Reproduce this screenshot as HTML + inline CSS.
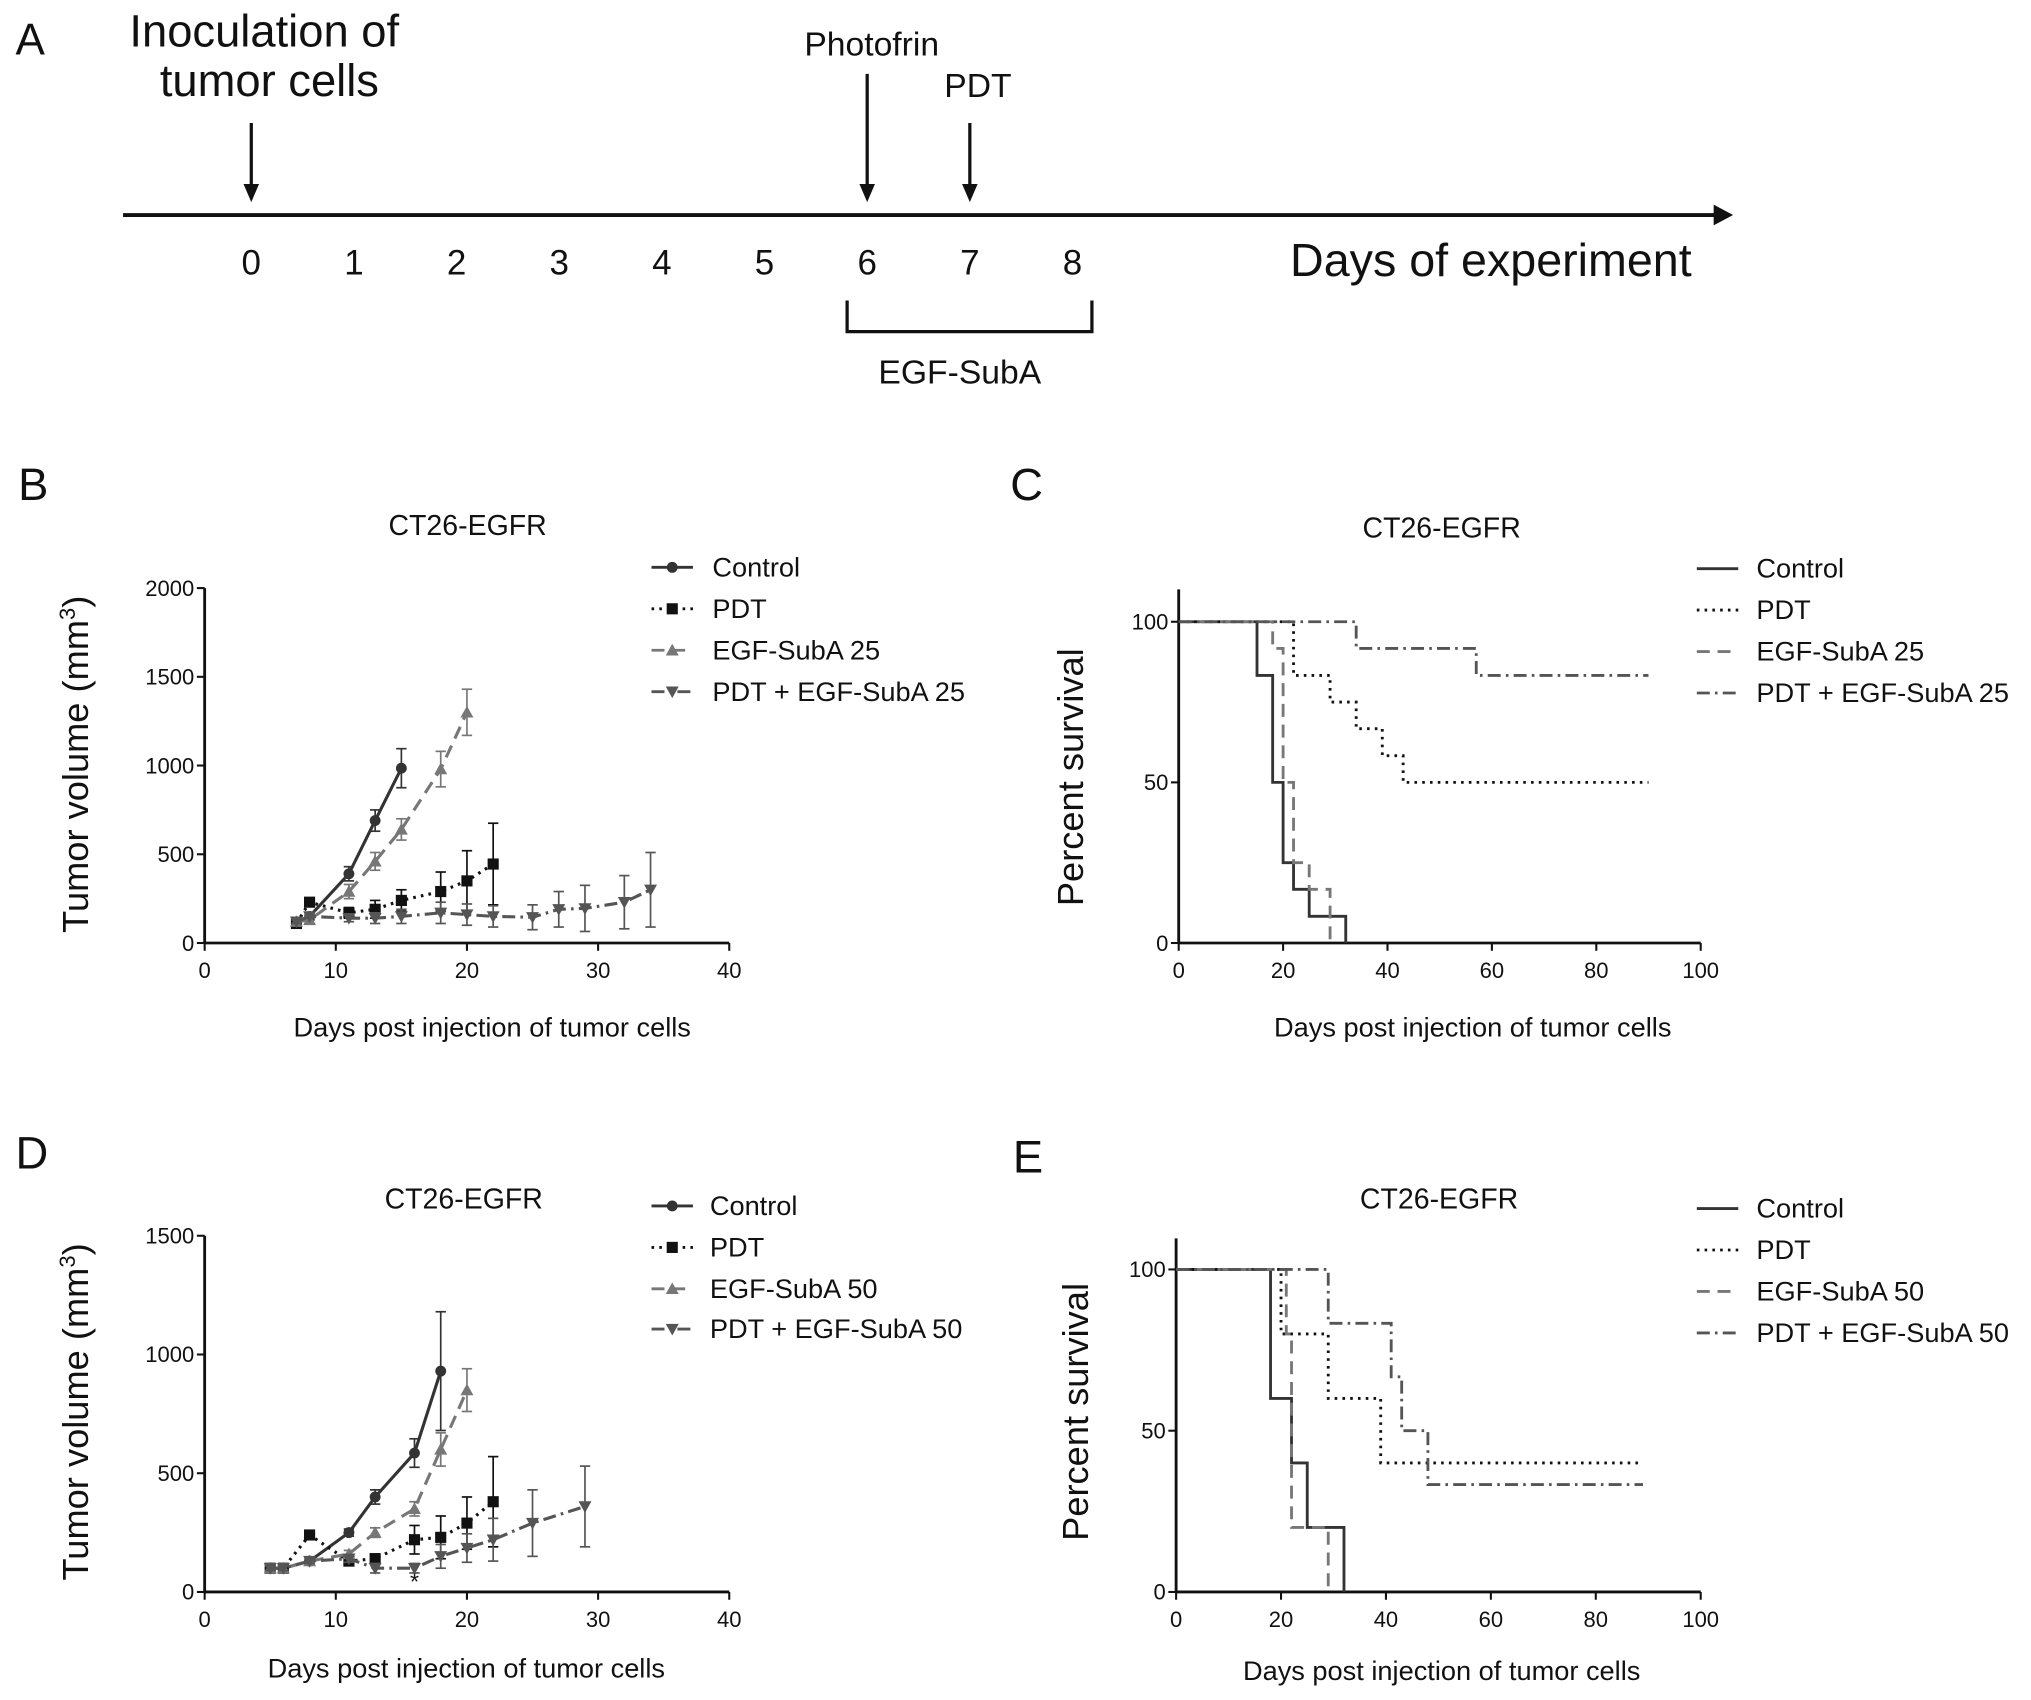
<!DOCTYPE html>
<html><head><meta charset="utf-8">
<style>
html,body{margin:0;padding:0;background:#fff;}
svg{display:block;}
text{font-family:"Liberation Sans Narrow","Liberation Sans",sans-serif;fill:#111;}
</style></head>
<body>
<svg id="fig" width="2031" height="1700" viewBox="0 0 1568 1312.4" preserveAspectRatio="none" xmlns="http://www.w3.org/2000/svg">
<rect width="1568" height="1312.4" fill="#fff"/>
<g id="panelA">
  <text x="12" y="42" font-size="34">A</text>
  <text x="204" y="36" font-size="35" text-anchor="middle">Inoculation of</text>
  <text x="208" y="74" font-size="35" text-anchor="middle">tumor cells</text>
  <text x="673" y="43" font-size="26" text-anchor="middle">Photofrin</text>
  <text x="755" y="75" font-size="26" text-anchor="middle">PDT</text>
  <line x1="95" y1="166" x2="1325" y2="166" stroke="#111" stroke-width="3"/>
  <polygon points="1323,158 1338,166 1323,174" fill="#111"/>
  <text x="1151" y="213" font-size="36" text-anchor="middle">Days of experiment</text>
  <path d="M654,232 V256 H843 V232" fill="none" stroke="#111" stroke-width="2.5"/>
  <text x="741" y="296" font-size="26" text-anchor="middle">EGF-SubA</text>
</g>
<g id="plots"></g>
</svg>
<script>
// ---------- Panel A data ----------
const timelineDays = [0,1,2,3,4,5,6,7,8];
const eventDays = [0,6,7];
const eventTops = [95,57,95];

// ---------- Panel B data ----------
const bCtrlX=[7,8,11,13,15], bCtrlY=[120,150,390,690,985], bCtrlE=[20,20,40,60,110];
const bPdtX=[7,8,11,13,15,18,20,22], bPdtY=[110,230,170,190,240,290,350,445], bPdtE=[0,0,30,50,60,110,170,230];
const bEgfX=[7,8,11,13,15,18,20], bEgfY=[120,130,290,460,640,980,1300], bEgfE=[20,20,40,50,60,100,130];
const bComboX=[7,8,11,13,15,18,20,22,25,27,29,32,34], bComboY=[120,150,140,140,150,170,160,150,145,190,195,230,300], bComboE=[10,10,20,30,40,60,60,60,70,100,130,150,210];
const bYTicks=[0,500,1000,1500,2000];
const bXTicks=[0,10,20,30,40];

// ---------- Panel D data ----------
const dCtrlX=[5,6,8,11,13,16,18], dCtrlY=[100,100,130,250,400,585,930], dCtrlE=[10,10,10,15,30,60,250];
const dPdtX=[5,6,8,11,13,16,18,20,22], dPdtY=[100,100,240,130,140,220,230,290,380], dPdtE=[10,10,10,15,20,60,90,110,190];
const dEgfX=[5,6,8,11,13,16,18,20], dEgfY=[100,100,130,160,250,350,600,850], dEgfE=[10,10,10,15,20,30,70,90];
const dComboX=[5,6,8,11,13,16,18,20,22,25,29], dComboY=[100,100,130,140,100,100,150,185,220,290,360], dComboE=[10,10,10,15,20,20,50,60,90,140,170];
const dYTicks=[0,500,1000,1500];
const dXTicks=[0,10,20,30,40];

// ---------- Panel C data (Kaplan-Meier) ----------
const cCtrlT=[0,15,18,20,22,25,32], cCtrlS=[100,83.3,50,25,16.7,8.3,0];
const cPdtT=[0,22,29,34,39,43,90], cPdtS=[100,83.3,75,66.7,58.3,50,50];
const cEgfT=[0,18,20,22,25,29], cEgfS=[100,91.7,50,25,16.7,0];
const cComboT=[0,34,57,90], cComboS=[100,91.7,83.3,83.3];
// ---------- Panel E data ----------
const eCtrlT=[0,18,22,25,32], eCtrlS=[100,60,40,20,0];
const ePdtT=[0,20,29,39,89], ePdtS=[100,80,60,40,40];
const eEgfT=[0,21,22,29], eEgfS=[100,80,20,0];
const eComboT=[0,29,41,43,48,89], eComboS=[100,83.3,66.7,50,33.3,33.3];
const survYTicks=[0,50,100];
const survXTicks=[0,20,40,60,80,100];

const NS='http://www.w3.org/2000/svg';
const root=document.getElementById('plots');
const panelA=document.getElementById('panelA');
function mk(tag,attrs,parent){const e=document.createElementNS(NS,tag);for(const k in attrs)e.setAttribute(k,attrs[k]);(parent||root).appendChild(e);return e;}

// Panel A ticks and arrows
const tA=d=>194+d*79.25;
timelineDays.forEach(d=>{
  const t=mk('text',{x:tA(d),y:212,'font-size':27,'text-anchor':'middle'},panelA);
  t.textContent=d;
  
  
});
eventDays.forEach((d,i)=>{
  const g=mk('g',{},panelA);
  
  
  mk('line',{x1:tA(d),y1:eventTops[i],x2:tA(d),y2:145,stroke:'#111','stroke-width':2.5},g);
  mk('polygon',{points:`${tA(d)-6},142 ${tA(d)+6},142 ${tA(d)},156`,fill:'#111'},g);
});

function marker(g,type,x,y,col){
  if(type==='circle')mk('circle',{cx:x,cy:y,r:4.2,fill:col},g);
  else if(type==='square')mk('rect',{x:x-4.3,y:y-4.3,width:8.6,height:8.6,fill:col},g);
  else if(type==='up')mk('polygon',{points:`${x-5},${y+4} ${x+5},${y+4} ${x},${y-5}`,fill:col},g);
  else mk('polygon',{points:`${x-5},${y-4} ${x+5},${y-4} ${x},${y+5}`,fill:col},g);
}

function axesFrame(o){
  const g=mk('g',{});
  
  
  mk('line',{x1:o.x0,y1:o.yb,x2:o.x1,y2:o.yb,stroke:'#111','stroke-width':2.2},g);
  mk('line',{x1:o.x0,y1:o.yb,x2:o.x0,y2:o.ytop,stroke:'#111','stroke-width':2.2},g);
  o.yTicks.forEach(v=>{const y=o.sy(v);mk('line',{x1:o.x0-6,y1:y,x2:o.x0,y2:y,stroke:'#111','stroke-width':1.6},g);
    const t=mk('text',{x:o.x0-8,y:y+6,'font-size':17,'text-anchor':'end'},g);t.textContent=v;
    
    });
  o.xTicks.forEach(v=>{const x=o.sx(v);mk('line',{x1:x,y1:o.yb,x2:x,y2:o.yb+6,stroke:'#111','stroke-width':1.6},g);
    const t=mk('text',{x:x,y:o.yb+27,'font-size':17,'text-anchor':'middle'},g);t.textContent=v;
    
    });
  const ti=mk('text',{x:o.tx,y:o.ty,'font-size':22,'text-anchor':'middle'},g);ti.textContent='CT26-EGFR';
  
  
  const xl=mk('text',{x:o.xlx,y:o.xly,'font-size':21,'text-anchor':'middle'},g);xl.textContent='Days post injection of tumor cells';
  
  
  const yl=mk('text',{x:0,y:0,'font-size':28,'text-anchor':'middle',transform:`translate(${o.ylx},${o.yly}) rotate(-90)`},g);
  
  
  if(o.mm3){yl.innerHTML='Tumor volume (mm<tspan dy="-10" font-size="17">3</tspan><tspan dy="10">)</tspan>';}
  else yl.textContent='Percent survival';
  const pl=mk('text',{x:o.plx,y:o.ply,'font-size':35},g);pl.textContent=o.letter;
  
  
}

function legend(x,ys,labels,styles,withMarkers,tx){
  labels.forEach((lab,i)=>{
    const g=mk('g',{});
    
    
    const s=styles[i];
    mk('line',{x1:x,y1:ys[i],x2:x+32,y2:ys[i],stroke:s.col,'stroke-width':2.2,'stroke-dasharray':s.dash},g);
    if(withMarkers)marker(g,s.m,x+16,ys[i],s.col);
    const t=mk('text',{x:tx,y:ys[i]+7,'font-size':21},g);t.textContent=lab;
  });
}

const styles=[{col:'#333',dash:'',m:'circle'},{col:'#111',dash:'2,4',m:'square'},{col:'#777',dash:'10,6',m:'up'},{col:'#555',dash:'10,4,2,4',m:'down'}];

function growth(o,series,names){
  axesFrame(o);
  series.forEach((s,i)=>{
    const st=styles[i];
    const g=mk('g',{});
    
    
    const pts=s[0].map((d,j)=>`${o.sx(d)},${o.sy(s[1][j])}`).join(' ');
    s[0].forEach((d,j)=>{
      const x=o.sx(d),y1=o.sy(s[1][j]+s[2][j]),y2=o.sy(Math.max(0,s[1][j]-s[2][j]));
      if(s[2][j]>0){mk('line',{x1:x,y1:y1,x2:x,y2:y2,stroke:st.col,'stroke-width':1.3},g);
        mk('line',{x1:x-4,y1:y1,x2:x+4,y2:y1,stroke:st.col,'stroke-width':1.3},g);
        mk('line',{x1:x-4,y1:y2,x2:x+4,y2:y2,stroke:st.col,'stroke-width':1.3},g);}
    });
    mk('polyline',{points:pts,fill:'none',stroke:st.col,'stroke-width':2.4,'stroke-dasharray':st.dash},g);
    s[0].forEach((d,j)=>marker(g,st.m,o.sx(d),o.sy(s[1][j]),st.col));
  });
}

function survival(o,series,names){
  axesFrame(o);
  series.forEach((s,i)=>{
    const st=styles[i];
    let d=`M${o.sx(s[0][0])},${o.sy(s[1][0])}`;
    for(let j=1;j<s[0].length;j++){d+=` H${o.sx(s[0][j])} V${o.sy(s[1][j])}`;}
    const p=mk('path',{d:d,fill:'none',stroke:st.col,'stroke-width':2.2,'stroke-dasharray':st.dash});
    
    
  });
}

// Panel B
const oB={name:'panel-b',x0:158,x1:563,yb:728,ytop:454,sx:v=>158+v*405/40,sy:v=>728-v*274/2000,yTicks:bYTicks,xTicks:bXTicks,
  tx:361,ty:413,xlx:380,xly:800,ylx:68,yly:590,mm3:true,plx:14,ply:386,letter:'B'};
growth(oB,[[bCtrlX,bCtrlY,bCtrlE],[bPdtX,bPdtY,bPdtE],[bEgfX,bEgfY,bEgfE],[bComboX,bComboY,bComboE]],['control','pdt','egf-suba-25','pdt-egf-suba-25']);
legend(503,[438,470,502,534],['Control','PDT','EGF-SubA 25','PDT + EGF-SubA 25'],styles,true,550);

// Panel D
const oD={name:'panel-d',x0:158,x1:563,yb:1229,ytop:954,sx:v=>158+v*405/40,sy:v=>1229-v*275/1500,yTicks:dYTicks,xTicks:dXTicks,
  tx:358,ty:933,xlx:360,xly:1295,ylx:68,yly:1090,mm3:true,plx:12,ply:902,letter:'D'};
growth(oD,[[dCtrlX,dCtrlY,dCtrlE],[dPdtX,dPdtY,dPdtE],[dEgfX,dEgfY,dEgfE],[dComboX,dComboY,dComboE]],['control','pdt','egf-suba-50','pdt-egf-suba-50']);
legend(503,[931,963,995,1026],['Control','PDT','EGF-SubA 50','PDT + EGF-SubA 50'],styles,true,548);
const ast=mk('text',{x:oD.sx(16),y:1227,'font-size':18,'text-anchor':'middle'});ast.textContent='*';



// Panel C
const oC={name:'panel-c',x0:910,x1:1313,yb:728,ytop:455,sx:v=>910+v*403/100,sy:v=>728-v*248/100,yTicks:survYTicks,xTicks:survXTicks,
  tx:1113,ty:415,xlx:1137,xly:800,ylx:836,yly:600,mm3:false,plx:780,ply:386,letter:'C'};
survival(oC,[[cCtrlT,cCtrlS],[cPdtT,cPdtS],[cEgfT,cEgfS],[cComboT,cComboS]],['control','pdt','egf-suba-25','pdt-egf-suba-25']);
legend(1310,[439,471,503,535],['Control','PDT','EGF-SubA 25','PDT + EGF-SubA 25'],styles,false,1356);

// Panel E
const oE={name:'panel-e',x0:908,x1:1313,yb:1229,ytop:956,sx:v=>908+v*405/100,sy:v=>1229-v*249/100,yTicks:survYTicks,xTicks:survXTicks,
  tx:1111,ty:933,xlx:1113,xly:1297,ylx:840,yly:1090,mm3:false,plx:782,ply:905,letter:'E'};
survival(oE,[[eCtrlT,eCtrlS],[ePdtT,ePdtS],[eEgfT,eEgfS],[eComboT,eComboS]],['control','pdt','egf-suba-50','pdt-egf-suba-50']);
legend(1310,[933,965,997,1029],['Control','PDT','EGF-SubA 50','PDT + EGF-SubA 50'],styles,false,1356);
</script>
</body></html>
